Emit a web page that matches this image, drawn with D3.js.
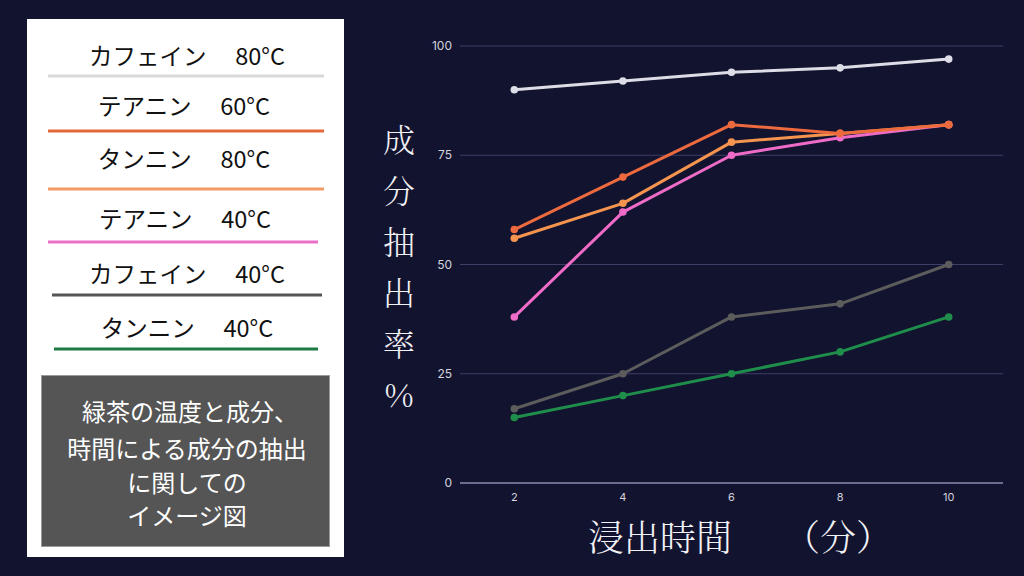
<!DOCTYPE html>
<html><head><meta charset="utf-8">
<script src="https://cdn.jsdelivr.net/npm/d3@7"></script>
<style>
html,body{margin:0;padding:0;background:#12132f;}
svg{display:block;}
</style></head>
<body>
<svg id="c" width="1024" height="576"></svg>
<script>
const times = [2, 4, 6, 8, 10];
const seriesNames = ["カフェイン　 80°C", "テアニン　 60°C", "タンニン　 80°C", "テアニン　 40°C", "カフェイン　 40°C", "タンニン　 40°C"];
const caffeine80 = [90, 92, 94, 95, 97];
const theanine60 = [58, 70, 82, 80, 82];
const tannin80   = [56, 64, 78, 80, 82];
const theanine40 = [38, 62, 75, 79, 82];
const caffeine40 = [17, 25, 38, 41, 50];
const tannin40   = [15, 20, 25, 30, 38];
const yTicks = [0, 25, 50, 75, 100];
const xTicks = [2, 4, 6, 8, 10];
const lineColors = ["#dcdde6", "#ec6a3e", "#f4944f", "#ee6cc8", "#5c5c5c", "#1f8e4a"];
const legendColors = ["#d9d9d9", "#e4683a", "#f09a66", "#ea6fc8", "#555555", "#1e7a45"];
const noteLines = ["緑茶の温度と成分、", "時間による成分の抽出", "に関しての", "イメージ図"];
const yTitle = ["成", "分", "抽", "出", "率", "%"];
const xTitleMain = "浸出時間";
const xTitleUnit = "（分）";

const allSeries = [caffeine80, theanine60, tannin80, theanine40, caffeine40, tannin40];
const drawOrder = [0, 4, 5, 3, 2, 1];

const svg = d3.select("#c");
const JP = "'Noto Sans CJK JP','Noto Sans',sans-serif";
const JPS = "'Noto Serif CJK JP','Noto Sans CJK JP',serif";

svg.append("rect").attr("width",1024).attr("height",576).attr("fill","#12132f");

// ---- Chart ----
const x = d3.scaleLinear().domain([1, 11]).range([460, 1003]);
const y = d3.scaleLinear().domain([0, 100]).range([483, 46]);

const g = svg.append("g");
g.selectAll("line.grid").data(yTicks.filter(d=>d>0)).join("line")
  .attr("x1", x(1)).attr("x2", x(11))
  .attr("y1", d=>y(d)).attr("y2", d=>y(d))
  .attr("stroke", "#3e3f66").attr("stroke-width", 1);
g.append("line").attr("x1", x(1)).attr("x2", x(11)).attr("y1", y(0)).attr("y2", y(0))
  .attr("stroke", "#6c6c90").attr("stroke-width", 2);

g.selectAll("text.yt").data(yTicks).join("text")
  .attr("x", 452).attr("y", d=>y(d)).attr("dy","0.35em")
  .attr("text-anchor","end").attr("fill","#d4d4de")
  .attr("font-family","Inter,'Open Sans',sans-serif").attr("font-size",12)
  .text(d=>d);
g.selectAll("text.xt").data(xTicks).join("text")
  .attr("x", d=>x(d)).attr("y", 497).attr("dy","0.35em")
  .attr("text-anchor","middle").attr("fill","#d4d4de")
  .attr("font-family","Inter,'Open Sans',sans-serif").attr("font-size",11)
  .text(d=>d);

const line = d3.line().x((d,i)=>x(times[i])).y(d=>y(d));
drawOrder.forEach(si=>{
  const vals = allSeries[si];
  g.append("path").datum(vals).attr("d", line)
    .attr("fill","none").attr("stroke", lineColors[si]).attr("stroke-width", 3)
    .attr("stroke-linejoin","round");
  g.selectAll(null).data(vals).join("circle")
    .attr("cx",(d,i)=>x(times[i])).attr("cy", d=>y(d)).attr("r", 3.8)
    .attr("fill", lineColors[si]);
});

// axis titles
svg.selectAll("text.ytitle").data(yTitle).join("text")
  .attr("x", 399).attr("y", (d,i)=>138 + i*51).attr("dominant-baseline","central")
  .attr("text-anchor","middle").attr("fill","#f2f2f6")
  .attr("font-family", JPS).attr("font-weight",300).attr("font-size",32)
  .text(d=>d);
svg.append("text").attr("x", 588).attr("y", 535).attr("dominant-baseline","central")
  .attr("fill","#f2f2f6").attr("font-family", JPS).attr("font-weight",300).attr("font-size",36)
  .text(xTitleMain);
svg.append("text").attr("x", 784).attr("y", 535).attr("dominant-baseline","central")
  .attr("fill","#f2f2f6").attr("font-family", JPS).attr("font-weight",300).attr("font-size",36)
  .text(xTitleUnit);

// ---- Left panel ----
svg.append("rect").attr("x",27).attr("y",19).attr("width",317).attr("height",538).attr("fill","#ffffff");
const legY = [55, 105, 158, 218, 273, 327];
const legTextX = [187, 184, 184, 185, 187, 187];
const legLines = [[48,324,76],[48,324,131],[48,324,189],[48,318,242],[52,322,295],[54,318,349]];
svg.selectAll("text.leg").data(seriesNames).join("text")
  .attr("x",(d,i)=>legTextX[i]).attr("y",(d,i)=>legY[i]).attr("dominant-baseline","central")
  .attr("text-anchor","middle").attr("fill","#111").attr("font-family",JP).attr("font-size",23.5)
  .text(d=>d);
svg.selectAll("line.leg").data(legLines).join("line")
  .attr("x1",d=>d[0]).attr("x2",d=>d[1]).attr("y1",d=>d[2]).attr("y2",d=>d[2])
  .attr("stroke",(d,i)=>legendColors[i]).attr("stroke-width",3);

svg.append("rect").attr("x",41.5).attr("y",375.5).attr("width",288).attr("height",171)
  .attr("fill","#555555").attr("stroke","#9a9a9a").attr("stroke-width",1);
svg.selectAll("text.note").data(noteLines).join("text")
  .attr("x",(d,i)=> i===0 ? 190 : 187).attr("y",(d,i)=>[410,447,481,514][i]).attr("dominant-baseline","central")
  .attr("text-anchor","middle").attr("fill","#ffffff").attr("font-family",JP).attr("font-size",24)
  .text(d=>d);
</script>
</body></html>
